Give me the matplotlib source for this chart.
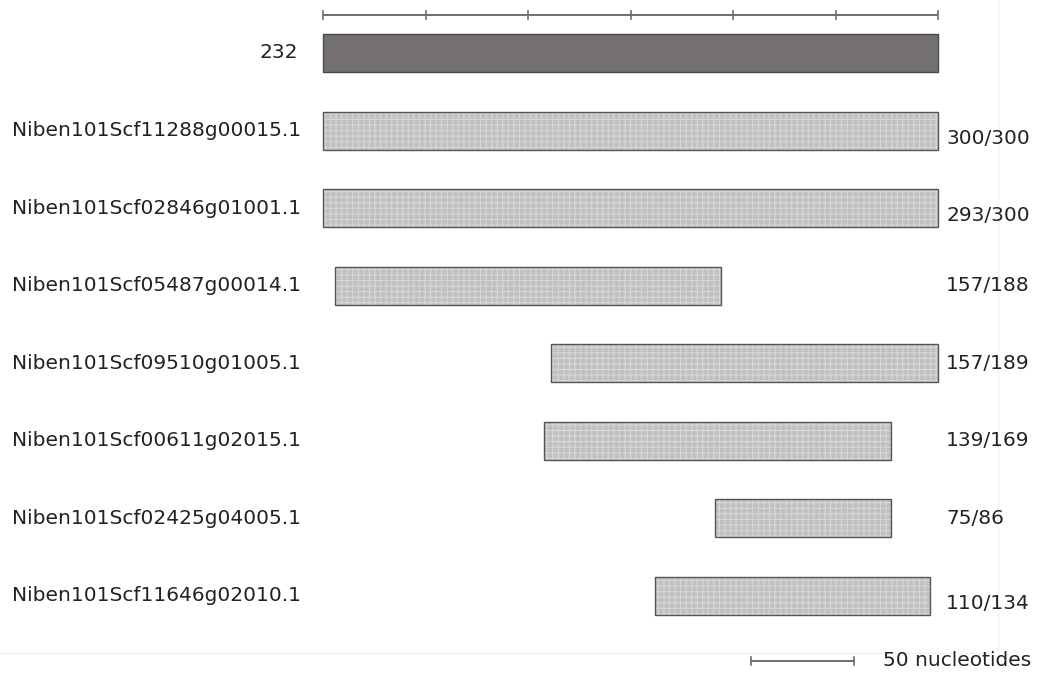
import matplotlib
matplotlib.use("Agg")
from matplotlib import pyplot as plt
from matplotlib.patches import Rectangle

# query sequence and its hits (positions in nucleotides along the query)
query_name = "232"
query_length = 300
hit_names = [
    "Niben101Scf11288g00015.1",
    "Niben101Scf02846g01001.1",
    "Niben101Scf05487g00014.1",
    "Niben101Scf09510g01005.1",
    "Niben101Scf00611g02015.1",
    "Niben101Scf02425g04005.1",
    "Niben101Scf11646g02010.1",
]
hit_starts = [0, 0, 6, 111, 108, 191, 162]
hit_ends = [300, 300, 194, 300, 277, 277, 296]
hit_identity = ["300/300", "293/300", "157/188", "157/189", "139/169", "75/86", "110/134"]
ruler_step = 50
scale_length = 50

# vertical nudges for the identity labels (in rows)
label_shift = [0.1, 0.09, 0, 0, 0, 0, 0.1]

plt.rcParams['font.family'] = ['DejaVu Sans']
plt.rcParams['hatch.linewidth'] = 0.8
fig = plt.figure(figsize=(10.38, 6.79), dpi=100)
ax = fig.add_axes([0, 0, 1, 1])
px = 615.0 / query_length
ax.set_xlim(-323 / px, (1038 - 323) / px)
row = 77.57
ax.set_ylim((679 - 53) / row, -53 / row)
ax.axis("off")

bar_h = 0.49
text_kw = dict(fontsize=14.5, color="#222222", va="center")
ytr = ax.get_yaxis_transform()

# ruler
ruler_y = -0.49
ax.plot([0, query_length], [ruler_y, ruler_y], color="#6e6e6e", lw=1.4, solid_capstyle="butt")
for t in range(0, query_length + 1, ruler_step):
    ax.plot([t, t], [ruler_y - 0.055, ruler_y + 0.055], color="#6e6e6e", lw=1.2)

# query bar
ax.add_patch(Rectangle((0, -bar_h / 2), query_length, bar_h,
                       facecolor="#757070", edgecolor="#4a4a4a", lw=1.0))
ax.text(298 / 1038, 0, query_name, transform=ytr, ha="right", **text_kw)

# hit bars with checkered fill
for i, (name, s, e, ident) in enumerate(zip(hit_names, hit_starts, hit_ends, hit_identity)):
    y = i + 1
    ax.add_patch(Rectangle((s, y - bar_h / 2), e - s, bar_h,
                           facecolor="#c0c0c0", edgecolor="#d6d6d6", hatch="+++", lw=0))
    ax.add_patch(Rectangle((s, y - bar_h / 2), e - s, bar_h,
                           facecolor="none", edgecolor="#555555", lw=1.0))
    ax.text(12 / 1038, y, name, transform=ytr, ha="left", **text_kw)
    ax.text(946 / 1038, y + label_shift[i], ident, transform=ytr, ha="left", **text_kw)

# faint frame lines
ax.plot([0, 990 / 1038], [(653 - 53) / row] * 2, transform=ytr, color="#f0f0f0", lw=1)
ax.plot([998, 998], [679 - 651, 679], color="#f3f3f3", lw=1, transform=None)

# scale bar
sb_x = (751 - 323) / px
sb_y = (661 - 53) / row
ax.plot([sb_x, sb_x + scale_length], [sb_y, sb_y], color="#6e6e6e", lw=1.4)
for t in (sb_x, sb_x + scale_length):
    ax.plot([t, t], [sb_y - 0.05, sb_y + 0.05], color="#6e6e6e", lw=1.2)
ax.text(883 / 1038, sb_y, "%d nucleotides" % scale_length, transform=ytr, ha="left", **text_kw)

fig.savefig("out.png", dpi=100)
